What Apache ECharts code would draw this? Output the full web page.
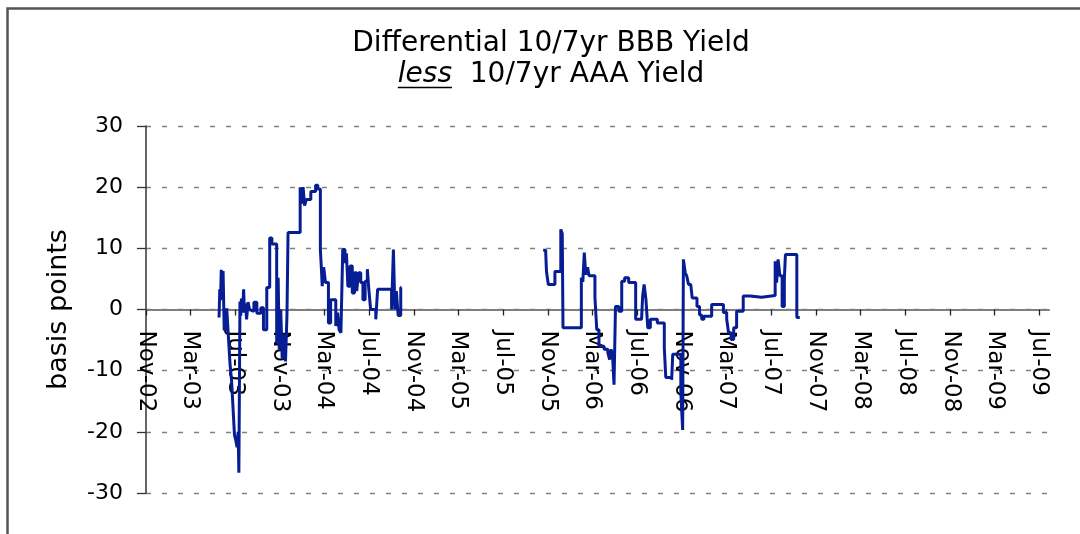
<!DOCTYPE html>
<html>
<head>
<meta charset="utf-8">
<script src="https://cdn.jsdelivr.net/npm/echarts@6/dist/echarts.min.js"></script>
<style>
html,body{margin:0;padding:0;background:#fff;}
#chart{width:1080px;height:534px;}
</style>
</head>
<body>
<div id="chart"></div>
<script>
// ---------- text ----------
const titleLine1 = 'Differential 10/7yr BBB Yield';
const titleLess = 'less';
const titleLine2Rest = '  10/7yr AAA Yield';
const yAxisName = 'basis points';
const monthNames = ['Jan','Feb','Mar','Apr','May','Jun','Jul','Aug','Sep','Oct','Nov','Dec'];

// ---------- axes ----------
const yMin = -30, yMax = 30, yStep = 10;
const xMinDate = '2002-11-01';
const xMaxDate = '2009-07-27';
const xTickDates = ['2002-11-01','2003-03-01','2003-07-01','2003-11-01','2004-03-01','2004-07-01',
  '2004-11-01','2005-03-01','2005-07-01','2005-11-01','2006-03-01','2006-07-01','2006-11-01',
  '2007-03-01','2007-07-01','2007-11-01','2008-03-01','2008-07-01','2008-11-01','2009-03-01','2009-07-01'];

// ---------- data (value holds until next date; null = gap) ----------
const dates = [
  '2003-05-19','2003-05-21','2003-05-23','2003-05-25','2003-05-28','2003-05-30','2003-06-02','2003-06-09',
  '2003-06-14','2003-06-18','2003-06-22','2003-06-26','2003-06-30','2003-07-04','2003-07-07','2003-07-10',
  '2003-07-12','2003-07-15','2003-07-17','2003-07-19','2003-07-22','2003-07-25','2003-07-27','2003-07-30',
  '2003-08-02','2003-08-06','2003-08-10','2003-08-15','2003-08-22','2003-08-30','2003-09-10','2003-09-17',
  '2003-09-26','2003-10-04','2003-10-10','2003-10-23','2003-10-27','2003-10-30','2003-11-03','2003-11-07',
  '2003-11-12','2003-11-16','2003-11-20','2003-11-23','2003-12-26','2003-12-30','2004-01-03','2004-01-07',
  '2004-01-12','2004-01-24','2004-02-06','2004-02-12','2004-02-19','2004-02-22','2004-02-24','2004-02-28',
  '2004-03-04','2004-03-12','2004-03-18','2004-04-01','2004-04-06','2004-04-10','2004-04-15','2004-04-20',
  '2004-04-26','2004-04-30','2004-05-04','2004-05-10','2004-05-16','2004-05-22','2004-05-28','2004-06-02',
  '2004-06-08','2004-06-14','2004-06-20','2004-06-26','2004-06-30','2004-07-05','2004-07-19','2004-07-24',
  '2004-08-31','2004-09-05','2004-09-09','2004-09-13','2004-09-18','2004-09-25','2004-09-27',
  '2004-09-28',
  '2005-10-18','2005-10-25','2005-10-27','2005-11-01','2005-11-19','2005-12-05','2005-12-09','2005-12-11',
  '2006-01-30','2006-02-03','2006-02-07','2006-02-11','2006-02-16','2006-02-20','2006-03-08','2006-03-13',
  '2006-03-19','2006-04-02','2006-04-12','2006-04-17','2006-04-21','2006-04-25','2006-04-29','2006-05-03',
  '2006-05-12','2006-05-20','2006-05-28','2006-06-08','2006-06-27','2006-07-13','2006-07-16','2006-07-20',
  '2006-07-25','2006-07-30','2006-08-06','2006-08-25','2006-09-13','2006-09-17','2006-10-03','2006-10-06',
  '2006-10-28','2006-11-02','2006-11-04','2006-11-09','2006-11-13','2006-11-18','2006-11-24','2006-11-28',
  '2006-12-11','2006-12-18','2006-12-24','2006-12-30','2007-01-20','2007-02-21','2007-03-02','2007-03-07',
  '2007-03-14','2007-03-21','2007-03-29','2007-04-16','2007-05-05','2007-06-05','2007-07-12','2007-07-16',
  '2007-07-20','2007-07-25','2007-07-31','2007-08-06','2007-08-09','2007-09-09','2007-09-17'
];
const values = [
  -1.3, 3.3, 1.5, 6.5, 3.0, 6.3, -3.3, 0.2,
  -5.0, -9.0, -11.5, -16.0, -20.5, -21.5, -22.5, -20.0,
  -26.7, 1.3, -1.0, 1.8, -0.5, 3.3, -0.5, 1.0,
  -1.6, 1.2, 0.0, -0.3, 1.2, -0.6, 0.3, -3.3,
  3.6, 11.7, 10.7, -5.5, 5.2, -6.5, 0.0, -8.0,
  -4.0, -8.5, -1.0, 12.6, 20.0, 17.3, 20.0, 17.0,
  18.0, 19.3, 20.3, 19.7, 9.8, 6.5, 3.8, 6.9,
  4.4, -2.2, 1.6, -2.7, -0.5, -3.3, -3.8, 9.8,
  7.6, 9.2, 3.8, 7.1, 2.7, 6.0, 3.0, 6.0,
  4.4, 1.6, 4.6, 6.6, 3.3, 0.0, -1.6, 3.3,
  0.0, 9.8, 0.0, 3.0, -1.0, 3.6, 3.6,
  null,
  9.7, 9.2, 6.2, 4.1, 6.2, 13.1, 12.4, -3.0,
  5.2, 4.5, 9.3, 5.7, 6.9, 5.5, 2.0, -3.3,
  -6.0, -6.5, -7.0, -8.2, -6.5, -7.5, -12.3, 0.5,
  -0.3, 4.6, 5.2, 4.4, -1.6, -1.8, 2.2, 4.1,
  1.6, -3.0, -1.6, -2.2, -6.3, -11.1, -11.5, -7.3,
  -13.6, -19.7, 8.2, 6.0, 5.5, 4.1, 4.4, 1.9,
  0.5, -0.9, -1.6, -1.1, 0.8, -0.5, -1.6, -3.8,
  -4.9, -3.0, -0.3, 2.2, 2.0, 2.3, 7.9, 4.4,
  8.2, 5.5, 0.5, 5.0, 9.0, -1.3, -1.3
];

// ---------- helpers ----------
function ts(s) { const p = s.split('-').map(Number); return new Date(p[0], p[1] - 1, p[2]).getTime(); }
function fmtMonth(v) { const d = new Date(v); return monthNames[d.getMonth()] + '-' + String(d.getFullYear()).slice(2); }

const FONT = '"DejaVu Sans", Verdana, sans-serif';
const titleSize = 28;
const titleCenterX = 551;
const gridTop = 126, gridBottom = 41, chartH = 534;
const xTickValues = xTickDates.map(ts);
const seriesData = dates.map((d, i) => [ts(d), values[i]]);

// x axis sits on the zero line: shift it up from the grid bottom
const zeroShift = (chartH - gridTop - gridBottom) * (0 - yMin) / (yMax - yMin);

// measure title line 2 for the underline under "less"
const mctx = document.createElement('canvas').getContext('2d');
mctx.font = 'italic ' + titleSize + 'px "DejaVu Sans"';
const wLess = mctx.measureText(titleLess).width;
mctx.font = titleSize + 'px "DejaVu Sans"';
const wRest = mctx.measureText(titleLine2Rest).width;
const lessStart = titleCenterX - (wLess + wRest) / 2;

const chart = echarts.init(document.getElementById('chart'), null, { renderer: 'canvas' });
chart.setOption({
  animation: false,
  backgroundColor: '#ffffff',
  title: {
    text: '{a|' + titleLine1 + '}\n{i|' + titleLess + '}{a|' + titleLine2Rest + '}',
    left: titleCenterX,
    top: 28,
    padding: 0,
    textAlign: 'center',
    textStyle: {
      fontWeight: 'normal',
      rich: {
        a: { fontSize: titleSize, fontFamily: FONT, fontWeight: 'normal', color: '#000', lineHeight: 31 },
        i: { fontSize: titleSize, fontFamily: FONT, fontWeight: 'normal', fontStyle: 'italic', color: '#000', lineHeight: 31 }
      }
    }
  },
  graphic: [
    { type: 'rect', silent: true, z: -10,
      shape: { x: 7.5, y: 8.5, width: 1200, height: 700 },
      style: { fill: 'none', stroke: '#555', lineWidth: 2.5 } },
    { type: 'line', silent: true,
      shape: { x1: lessStart, y1: 87.5, x2: lessStart + wLess, y2: 87.5 },
      style: { stroke: '#000', lineWidth: 1.5 } }
  ],
  grid: { left: 146, right: 31, top: gridTop, bottom: gridBottom, containLabel: false, outerBoundsMode: 'none' },
  xAxis: {
    type: 'value',
    min: ts(xMinDate),
    max: ts(xMaxDate),
    offset: -zeroShift,
    axisLine: { show: true, onZero: false, lineStyle: { color: '#7f7f7f', width: 2 } },
    axisTick: { show: true, length: 6, customValues: xTickValues, lineStyle: { color: '#222', width: 1.3 } },
    axisLabel: {
      customValues: xTickValues, rotate: -90, margin: 21,
      fontSize: 23, fontFamily: FONT, color: '#000',
      formatter: fmtMonth
    },
    splitLine: { show: false },
    minorTick: { show: false }
  },
  yAxis: {
    type: 'value',
    min: yMin, max: yMax, interval: yStep,
    name: yAxisName,
    nameLocation: 'middle',
    nameGap: 74,
    nameTextStyle: { fontSize: 27, fontFamily: FONT, color: '#000' },
    axisLine: { show: true, lineStyle: { color: '#333', width: 1.5 } },
    axisTick: { show: true, inside: false, length: 9, lineStyle: { color: '#333', width: 1.3 } },
    axisLabel: { margin: 23, fontSize: 22, fontFamily: FONT, color: '#000' },
    splitLine: { show: true, lineStyle: { type: [5, 11], color: '#808080', width: 1.3 } }
  },
  series: [{
    type: 'line',
    data: seriesData,
    step: 'end',
    showSymbol: false,
    connectNulls: false,
    lineStyle: { color: '#071d94', width: 3 },
    emphasis: { disabled: true }
  }]
});
</script>
</body>
</html>
